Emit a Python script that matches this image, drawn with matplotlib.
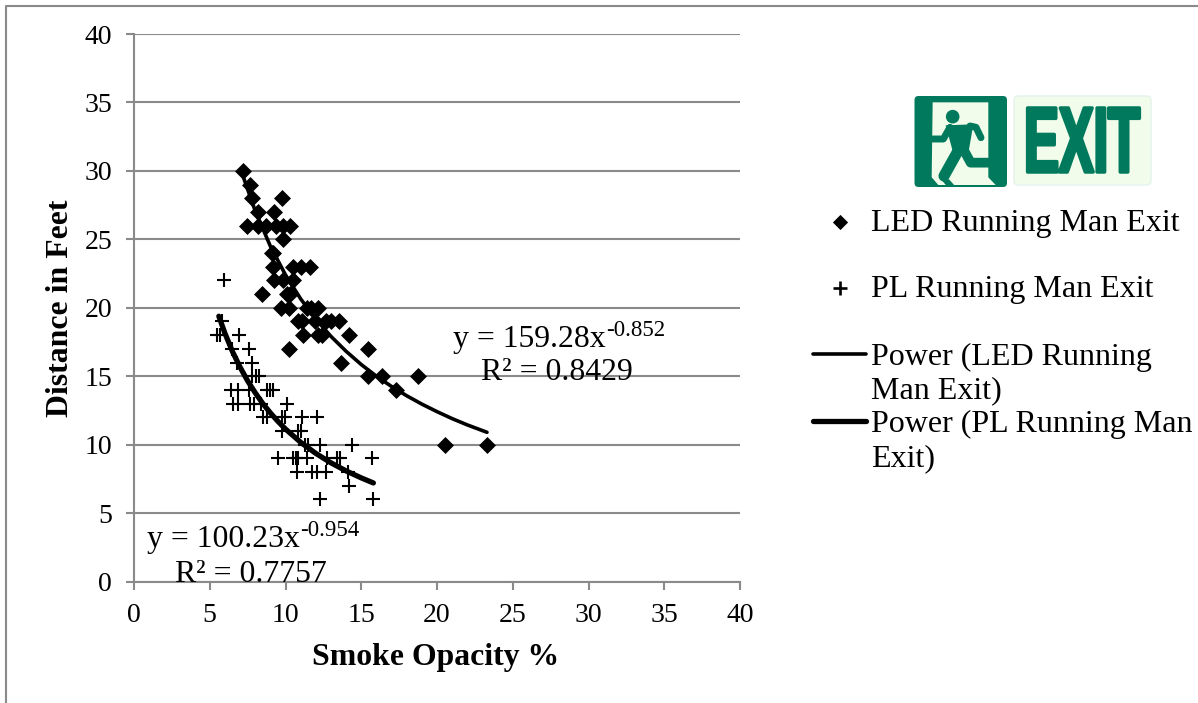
import matplotlib
matplotlib.use('Agg')
import matplotlib.pyplot as plt
from matplotlib.patches import FancyBboxPatch, Circle, Polygon
from matplotlib.patheffects import AbstractPathEffect
from matplotlib.transforms import Affine2D

W, H = 1198, 703

led_x = [7.17, 7.66, 7.8, 9.8, 8.2, 9.26, 7.48, 8.2, 8.71, 9.4, 9.85, 10.3, 9.86,
         9.1, 9.2, 9.2, 10.5, 11.0, 11.6, 9.25, 9.86, 10.5, 8.47, 10.1, 10.3,
         9.7, 10.25, 11.4, 11.7, 12.15, 10.8, 11.1, 11.95, 12.7, 13.0, 13.55,
         11.15, 12.15, 12.4, 14.2, 10.25, 15.45, 13.67, 15.47, 16.4, 18.75,
         17.27, 20.5, 23.3]
led_y = [30, 29, 28, 28, 27, 27, 26, 26, 26, 26, 26, 26, 25,
         24, 24, 23, 23, 23, 23, 22, 22, 22, 21, 21, 21,
         20, 20, 20, 20, 20, 19, 19, 19, 19, 19, 19,
         18, 18, 18, 18, 17, 17, 16, 15, 15, 15,
         14, 10, 10]

pl_x = [5.96, 5.79, 5.5, 5.7, 6.95, 6.45, 7.6, 6.78, 7.8, 7.77, 8.05, 8.25,
        6.38, 6.84, 7.6, 8.76, 8.98, 9.15, 6.55, 6.84, 7.65, 7.95, 8.4, 10.07,
        8.54, 8.76, 9.75, 9.96, 11.07, 12.1, 9.75, 10.83, 11.05,
        11.3, 11.5, 12.27, 14.37, 9.48, 10.5, 10.67, 10.83, 11.4, 12.77, 13.4,
        13.6, 15.7, 10.78, 11.73, 12.05, 12.7, 14.15, 14.2, 12.27, 15.8]
pl_y = [22, 19, 18, 18, 18, 17, 17, 16, 16, 15, 15, 15,
        14, 14, 14, 14, 14, 14, 13, 13, 13, 13, 13, 13,
        12, 12, 12, 12, 12, 12, 11, 11, 11,
        10, 10, 10, 10, 9, 9, 9, 9, 9, 9, 9,
        9, 9, 8, 8, 8, 8, 8, 7, 6, 6]

led_trend_x = [7.17, 8, 9, 10, 11, 12, 13, 14, 15, 16, 17, 18, 19, 20, 21, 22, 23.3]
led_trend_y = [29.7, 27.08, 24.5, 22.4, 20.65, 19.17, 17.91, 16.82, 15.85, 15.0,
               14.25, 13.57, 12.96, 12.41, 11.9, 11.44, 10.9]
pl_trend_x = [5.6, 6, 6.5, 7, 7.5, 8, 8.5, 9, 9.5, 10, 11, 12, 13, 14, 15, 15.8]
pl_trend_y = [19.38, 18.14, 16.8, 15.66, 14.66, 13.79, 13.0, 12.32, 11.7, 11.14,
              10.17, 9.36, 8.67, 8.08, 7.57, 7.2]

ticks = list(range(0, 45, 5))


class Squeeze(AbstractPathEffect):
    # narrows the glyphs around a centre, no installed font is this condensed
    def __init__(self, cx, sx, weight):
        super().__init__()
        self.cx = cx
        self.sx = sx
        self.weight = weight

    def draw_path(self, renderer, gc, tpath, affine, rgbFace=None):
        squeeze = Affine2D().translate(-self.cx, 0).scale(self.sx, 1).translate(self.cx, 0)
        gc0 = renderer.new_gc()
        gc0.copy_properties(gc)
        gc0.set_linewidth(self.weight)
        gc0.set_foreground(rgbFace)
        renderer.draw_path(gc0, tpath, affine + squeeze, rgbFace)
        gc0.restore()


plt.rcParams['font.family'] = ['Liberation Serif', 'DejaVu Serif']
fig = plt.figure(figsize=(W / 100, H / 100), dpi=100)

gray = '#8a8a8a'
ax = fig.add_axes([134 / W, 1 - 581.5 / H, 606 / W, 547.5 / H])
ax.set_xlim(0, 40)
ax.set_ylim(0, 40)
ax.set_xticks(ticks)
ax.set_yticks(ticks)
ax.tick_params(labelsize=20, color=gray, width=1.5, length=5.8, direction='out')
ax.tick_params(axis='y', pad=10)
ax.tick_params(axis='x', pad=10)
ax.grid(axis='y', color=gray, lw=1.5)
ax.set_axisbelow(True)
for s in ['top', 'right']:
    ax.spines[s].set_visible(False)
for s in ['left', 'bottom']:
    ax.spines[s].set_color(gray)
    ax.spines[s].set_linewidth(1.5)
ax.set_xlabel('Smoke Opacity %', fontsize=22.9, fontweight='bold', va='center')
ax.set_ylabel('Distance in Feet', fontsize=22.9, fontweight='bold', va='center')
ax.xaxis.set_label_coords((436 - 134) / 606, -(658 - 581.5) / 547.5)
ax.yaxis.set_label_coords((60 - 134) / 606, (581.5 - 308) / 547.5)

ax.scatter(led_x, led_y, marker='D', s=75, color='black', linewidths=0, clip_on=False, zorder=3)
ax.scatter(pl_x, pl_y, marker='+', s=88, color='black', linewidths=1.5, clip_on=False, zorder=3)
ax.plot(led_trend_x, led_trend_y, color='black', lw=2.6, solid_capstyle='round', zorder=4)
ax.plot(pl_trend_x, pl_trend_y, color='black', lw=3.8, solid_capstyle='round', zorder=4)

# overlay in pixel coordinates for the legend, equations and the sign
ov = fig.add_axes([0, 0, 1, 1], facecolor='none')
ov.set_xlim(0, W)
ov.set_ylim(H, 0)
ov.axis('off')

# page border
ov.plot([6, 6, W], [H, 5.5, 5.5], color=gray, lw=1.5)

eq_size = 22.9
sup_size = 16.5
ov.text(147, 539, 'y = 100.23x', fontsize=eq_size, va='center', ha='left')
ov.text(300, 530, '-0.954', fontsize=sup_size, va='center', ha='left')
ov.text(175, 574, 'R² = 0.7757', fontsize=eq_size, va='center', ha='left')
ov.text(453, 339, 'y = 159.28x', fontsize=eq_size, va='center', ha='left')
ov.text(606, 330, '-0.852', fontsize=sup_size, va='center', ha='left')
ov.text(481, 373, 'R² = 0.8429', fontsize=eq_size, va='center', ha='left')

# legend
leg_size = 23
ov.text(871, 223, 'LED Running Man Exit', fontsize=leg_size, va='center', ha='left')
ov.text(871, 290, 'PL Running Man Exit', fontsize=leg_size, va='center', ha='left')
ov.text(871, 357, 'Power (LED Running', fontsize=leg_size, va='center', ha='left')
ov.text(871, 391, 'Man Exit)', fontsize=leg_size, va='center', ha='left')
ov.text(871, 424, 'Power (PL Running Man', fontsize=leg_size, va='center', ha='left')
ov.text(871, 459, 'Exit)', fontsize=leg_size, va='center', ha='left')
ov.scatter([840], [221.5], marker='D', s=60, color='black', linewidths=0)
ov.scatter([840], [288], marker='+', s=88, color='black', linewidths=1.9)
ov.plot([813, 866], [354, 354], color='black', lw=2.6, solid_capstyle='round')
ov.plot([813, 866], [421, 421], color='black', lw=3.8, solid_capstyle='round')


def sign(pts):
    return [(905 + x / 3, 90 + y / 3) for x, y in pts]


green = '#00795c'
pale = '#f1fcea'
ov.add_patch(FancyBboxPatch((914.5, 96), 92.5, 91, boxstyle='round,pad=0,rounding_size=4',
                            fc=green, ec='none'))
ov.add_patch(Polygon(sign([(83, 37), (250, 37), (250, 262), (272, 285), (100, 285), (80, 262)]),
                     fc=pale, ec='none', zorder=3))
ov.add_patch(Circle(sign([(143, 80)])[0], 6.8, fc=green, ec='none', zorder=4))
ov.add_patch(Polygon(sign([(122, 106), (205, 103), (190, 190), (145, 190)]), fc=green, ec='none', zorder=4))
for pts, lw in [([(83, 147), (115, 147), (135, 112)], 5),
                ([(195, 108), (213, 112), (228, 143)], 5),
                ([(165, 172), (117, 258)], 8),
                ([(172, 172), (197, 218), (262, 218)], 7)]:
    xy = sign(pts)
    ov.plot([p[0] for p in xy], [p[1] for p in xy], color=green, lw=lw,
            solid_capstyle='round', solid_joinstyle='round', zorder=4)
ov.add_patch(Polygon(sign([(108, 268), (132, 268), (150, 288), (125, 288)]), fc=green, ec='none', zorder=4))
ov.add_patch(FancyBboxPatch((1014, 96), 137, 89, boxstyle='round,pad=0,rounding_size=4',
                            fc=pale, ec='#e3f3ee', lw=1))
ov.text(1082, 148, 'EXIT', fontsize=67, color=green, fontweight='bold', family='Liberation Sans',
        ha='center', va='center', path_effects=[Squeeze(1082, 0.56, 2.5)])

fig.savefig('out.png', dpi=100)
